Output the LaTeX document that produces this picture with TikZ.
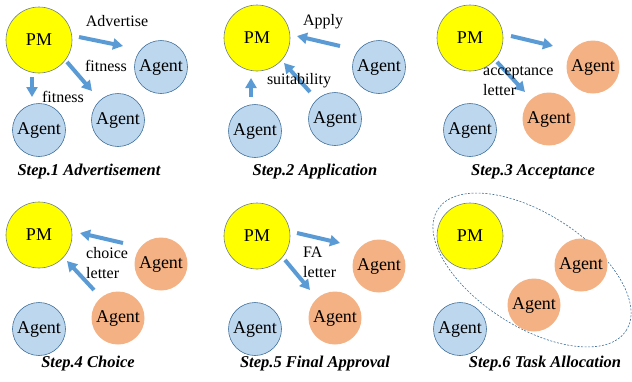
\documentclass[tikz,border=0pt]{standalone}
\usepackage{fontspec}
\setmainfont{Liberation Serif}
\usetikzlibrary{arrows.meta}
\definecolor{pmfill}{HTML}{FFFF00}
\definecolor{pmline}{HTML}{6F7F8F}
\definecolor{agblue}{HTML}{BDD7EE}
\definecolor{agline}{HTML}{41719C}
\definecolor{agorange}{HTML}{F4B183}
\definecolor{flow}{HTML}{5B9BD5}
\tikzset{
  pm/.style={circle, fill=pmfill, draw=pmline, line width=0.6pt, minimum size=66pt, inner sep=0pt, font=\fontsize{18}{20}\selectfont},
  agentidle/.style={circle, fill=agblue, draw=agline, line width=0.6pt, minimum size=53pt, inner sep=0pt, font=\fontsize{18}{20}\selectfont},
  agentsel/.style={circle, fill=agorange, minimum size=53pt, inner sep=0pt, font=\fontsize{18}{20}\selectfont},
  msg/.style={draw=flow, line width=4pt, -{Triangle[length=10pt,width=11pt]}},
  lbl/.style={inner sep=0pt, font=\fontsize{16}{20}\selectfont},
  lbltwo/.style={inner sep=0pt, anchor=west, align=left, font=\fontsize{16}{20}\selectfont},
  caption/.style={inner sep=0pt, font=\fontsize{16.5}{20}\selectfont\bfseries\itshape}
}
\begin{document}
\begin{tikzpicture}[x=1pt, y=-1pt]
\useasboundingbox (0,0) rectangle (632,381);

% ---- Step 1: advertisement
\node[pm] (pm1) at (39,40) {PM};
\node[agentidle] (ag1a) at (161,67) {Agent};
\node[agentidle] (ag1b) at (118,120) {Agent};
\node[agentidle] (ag1c) at (39,130) {Agent};
\coordinate (s1a) at (79,37);  \coordinate (e1a) at (123,46);
\coordinate (s1b) at (67,62);  \coordinate (e1b) at (92,91);
\coordinate (s1c) at (32,77);  \coordinate (e1c) at (32,97);
\draw[msg] (s1a) -- (e1a);
\draw[msg] (s1b) -- (e1b);
\draw[msg] (s1c) -- (e1c);
\node[lbl] (t1a) at (117,21) {Advertise};
\node[lbl] (t1b) at (106,66) {fitness};
\node[lbl] (t1c) at (63,97) {fitness};
\node[caption] (c1) at (89,172) {Step.1 Advertisement};

% ---- Step 2: application
\node[pm] (pm2) at (257,38) {PM};
\node[agentidle] (ag2a) at (379,67) {Agent};
\node[agentidle] (ag2b) at (335,119) {Agent};
\node[agentidle] (ag2c) at (255,131) {Agent};
\coordinate (s2a) at (340,46);  \coordinate (e2a) at (297,36);
\coordinate (s2b) at (310,92);  \coordinate (e2b) at (284,63);
\coordinate (s2c) at (251,97);  \coordinate (e2c) at (251,78);
\draw[msg] (s2a) -- (e2a);
\draw[msg] (s2b) -- (e2b);
\draw[msg] (s2c) -- (e2c);
\node[lbl] (t2a) at (323,22) {Apply};
\node[lbl] (t2b) at (299,81) {suitability};
\node[caption] (c2) at (315,172) {Step.2 Application};

% ---- Step 3: acceptance
\node[pm] (pm3) at (470,38) {PM};
\node[agentsel] (ag3a) at (593,67) {Agent};
\node[agentsel] (ag3b) at (549,119) {Agent};
\node[agentidle] (ag3c) at (470,130) {Agent};
\coordinate (s3a) at (511,36);  \coordinate (e3a) at (553,46);
\coordinate (s3b) at (497,62);  \coordinate (e3b) at (525,92);
\draw[msg] (s3a) -- (e3a);
\draw[msg] (s3b) -- (e3b);
\node[lbltwo] (t3a) at (483,81) {acceptance\\letter};
\node[caption] (c3) at (533,172) {Step.3 Acceptance};

% ---- Step 4: choice
\node[pm] (pm4) at (39,235) {PM};
\node[agentsel] (ag4a) at (161,264) {Agent};
\node[agentsel] (ag4b) at (118,318) {Agent};
\node[agentidle] (ag4c) at (39,329) {Agent};
\coordinate (s4a) at (123,243);  \coordinate (e4a) at (80,233);
\coordinate (s4b) at (94,290);   \coordinate (e4b) at (67,261);
\draw[msg] (s4a) -- (e4a);
\draw[msg] (s4b) -- (e4b);
\node[lbltwo] (t4a) at (86,263) {choice\\letter};
\node[caption] (c4) at (88,364) {Step.4 Choice};

% ---- Step 5: final approval
\node[pm] (pm5) at (257,236) {PM};
\node[agentsel] (ag5a) at (379,266) {Agent};
\node[agentsel] (ag5b) at (335,318) {Agent};
\node[agentidle] (ag5c) at (255,329) {Agent};
\coordinate (s5a) at (297,233);  \coordinate (e5a) at (340,243);
\coordinate (s5b) at (285,260);  \coordinate (e5b) at (310,290);
\draw[msg] (s5a) -- (e5a);
\draw[msg] (s5b) -- (e5b);
\node[lbltwo] (t5a) at (303,262) {FA\\letter};
\node[caption] (c5) at (315,364) {Step.5 Final Approval};

% ---- Step 6: task allocation
\draw[agline, dashed, dash pattern=on 2pt off 1.5pt, line width=0.6pt,
      rotate around={-32.7:(532,270)}] (532,270) ellipse [x radius=112pt, y radius=56.5pt];
\node[pm] (pm6) at (470,236) {PM};
\node[agentsel] (ag6a) at (581,265) {Agent};
\node[agentsel] (ag6b) at (534,305) {Agent};
\node[agentidle] (ag6c) at (460,329) {Agent};
\node[caption] (c6) at (545,364) {Step.6 Task Allocation};
\end{tikzpicture}
\end{document}
